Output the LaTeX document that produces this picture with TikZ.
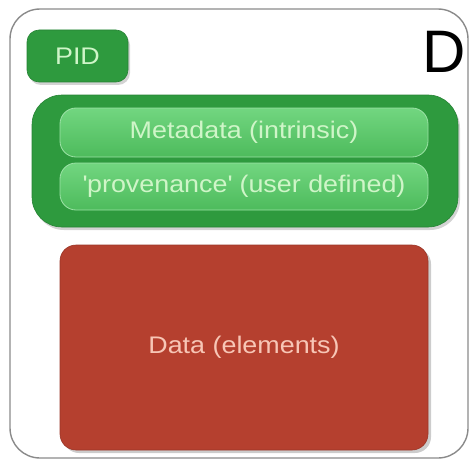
\documentclass[tikz,border=0pt]{standalone}
\usepackage{fontspec}
\setmainfont{Liberation Sans}
\newfontfamily\widefont[FakeStretch=1.12]{Liberation Sans}
\usetikzlibrary{shadows}
\definecolor{gdark}{HTML}{2E9A3E}
\definecolor{gbar}{HTML}{4DBB5C}
\definecolor{gbarlight}{HTML}{72D680}
\definecolor{gtext}{HTML}{CFF5C8}
\definecolor{rbox}{HTML}{B5402F}
\definecolor{rtext}{HTML}{F7C6B6}
\definecolor{framegray}{HTML}{8A8A8A}
\tikzset{
  greenbox/.style={fill=gdark, draw=gdark!85!black, line width=0.6pt, inner sep=0pt,
    drop shadow={opacity=0.35, shadow xshift=2pt, shadow yshift=-3pt}},
  barbox/.style={top color=gbarlight, bottom color=gbar, draw=gbarlight!70!white, line width=0.8pt,
    rounded corners=16pt, minimum width=368pt, inner sep=0pt, text=gtext,
    font=\widefont\fontsize{24}{28}\selectfont},
  databox/.style={fill=rbox, draw=rbox!85!black, line width=0.6pt, rounded corners=16pt,
    inner sep=0pt, text=rtext, font=\widefont\fontsize{24}{28}\selectfont,
    drop shadow={opacity=0.4, shadow xshift=3pt, shadow yshift=-3pt}}
}
\begin{document}
\begin{tikzpicture}[x=1pt, y=-1pt]
\useasboundingbox (0,0) rectangle (474,460);
\node[draw=framegray, line width=1.4pt, rounded corners=30pt, minimum width=458pt, minimum height=449pt, inner sep=0pt] (frame) at (239,233.5) {};
\node[greenbox, rounded corners=12pt, minimum width=101pt, minimum height=52pt, text=gtext, font=\widefont\fontsize{24}{28}\selectfont] (pid) at (77.5,56) {PID};
\node[font=\fontsize{60}{66}\selectfont, inner sep=0pt] (dlabel) at (444,52) {D};
\node[greenbox, rounded corners=30pt, minimum width=426pt, minimum height=132pt] (group) at (245,161) {};
\node[barbox, minimum height=49pt] (meta) at (244,132.5) {Metadata (intrinsic)};
\node[barbox, minimum height=47pt] (prov) at (244,186.5) {\textquotesingle provenance\textquotesingle\ (user defined)};
\node[databox, minimum width=368pt, minimum height=205pt] (data) at (244,347.5) {Data (elements)};
\end{tikzpicture}
\end{document}
